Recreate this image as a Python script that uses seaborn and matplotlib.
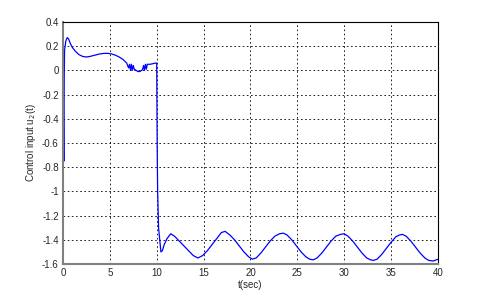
import numpy as np
import pandas as pd
import seaborn as sns
import matplotlib
matplotlib.use("Agg")
import matplotlib.pyplot as plt

# control input u2(t)
t_start = [0, 0.05, 0.1, 0.14, 0.18, 0.24, 0.3, 0.45, 0.6, 0.8,
           1.0, 1.3, 1.7, 2.1, 2.5, 2.9, 3.4, 3.9, 4.4, 4.8,
           5.2, 5.6, 6.0, 6.4, 6.8, 7.0, 7.1, 7.2, 7.3, 7.4,
           7.5, 7.6, 7.8, 8.0, 8.2, 8.4, 8.5, 8.6, 8.7, 8.8,
           8.9, 9.0, 9.3, 9.6, 9.9]
u_start = [0.0, -0.3, -0.75, -0.05, 0.17, 0.2, 0.24, 0.27, 0.26, 0.22,
           0.19, 0.16, 0.13, 0.115, 0.11, 0.115, 0.125, 0.135, 0.14, 0.14,
           0.135, 0.125, 0.11, 0.09, 0.06, 0.02, 0.05, 0.0, 0.05, 0.0,
           0.04, 0.01, 0.0, -0.01, -0.01, 0.0, 0.01, 0.04, 0.0, 0.05,
           0.01, 0.05, 0.05, 0.055, 0.06]

t_rest = [10.0, 10.05, 10.1, 10.2, 10.3, 10.45, 10.6, 10.8, 11.1, 11.5,
          11.9, 12.4, 12.9, 13.4, 13.9, 14.4, 14.9, 15.4, 15.9, 16.4,
          16.9, 17.3, 17.8, 18.3, 18.8, 19.3, 19.8, 20.2, 20.6, 21.1,
          21.6, 22.1, 22.6, 23.1, 23.5, 23.9, 24.4, 24.9, 25.4, 25.9,
          26.3, 26.7, 27.1, 27.6, 28.1, 28.6, 29.1, 29.6, 30.0, 30.4,
          30.9, 31.4, 31.9, 32.4, 32.8, 33.1, 33.5, 34.0, 34.5, 35.0,
          35.5, 35.9, 36.2, 36.6, 37.1, 37.6, 38.1, 38.6, 39.0, 39.5, 40.0]
u_rest = [0.06, -0.6, -1.0, -1.3, -1.38, -1.5, -1.49, -1.44, -1.39, -1.35,
          -1.37, -1.41, -1.45, -1.49, -1.53, -1.55, -1.53, -1.49, -1.44, -1.39,
          -1.34, -1.33, -1.36, -1.40, -1.45, -1.50, -1.54, -1.56, -1.55, -1.51,
          -1.46, -1.41, -1.37, -1.35, -1.345, -1.36, -1.40, -1.45, -1.50, -1.54,
          -1.56, -1.565, -1.55, -1.51, -1.46, -1.41, -1.37, -1.355, -1.35, -1.37,
          -1.41, -1.46, -1.51, -1.55, -1.565, -1.57, -1.56, -1.52, -1.47, -1.42,
          -1.375, -1.36, -1.355, -1.37, -1.41, -1.46, -1.51, -1.55, -1.57, -1.575, -1.56]

x_ticks = [0, 5, 10, 15, 20, 25, 30, 35, 40]
y_ticks = [0.4, 0.2, 0, -0.2, -0.4, -0.6, -0.8, -1, -1.2, -1.4, -1.6]

df = pd.DataFrame({"t": t_start + t_rest, "u": u_start + u_rest})

sns.set_style("white")
plt.rcParams['font.family'] = ['Liberation Sans', 'DejaVu Sans']

fig = plt.figure(figsize=(4.84, 2.96), dpi=100)
ax = fig.add_axes([0.130, 0.108, 0.775, 0.818])

sns.lineplot(data=df, x="t", y="u", sort=False, estimator=None,
             color="#0000ff", linewidth=0.9, ax=ax)

ax.set_xlim(0, 40)
ax.set_ylim(-1.6, 0.4)
ax.set_xticks(x_ticks)
ax.set_yticks(y_ticks)
ax.set_xticklabels([str(v) for v in x_ticks])
ax.set_yticklabels([f"{v:g}" for v in y_ticks])
ax.grid(True, color="black", linestyle=(0, (2, 3)), linewidth=0.6)
ax.tick_params(labelsize=7, length=0, pad=3)

for s in ax.spines.values():
    s.set_color("black")
    s.set_linewidth(0.8)
ax.spines["left"].set_color("#808080")
ax.spines["left"].set_linewidth(1.5)
ax.spines["bottom"].set_color("#808080")
ax.spines["bottom"].set_linewidth(1.5)

ax.set_xlabel("t(sec)", fontsize=7, labelpad=1)
ax.set_ylabel("Control input u$_2$(t)", fontsize=7, labelpad=3)

fig.savefig("out.png", dpi=100)
